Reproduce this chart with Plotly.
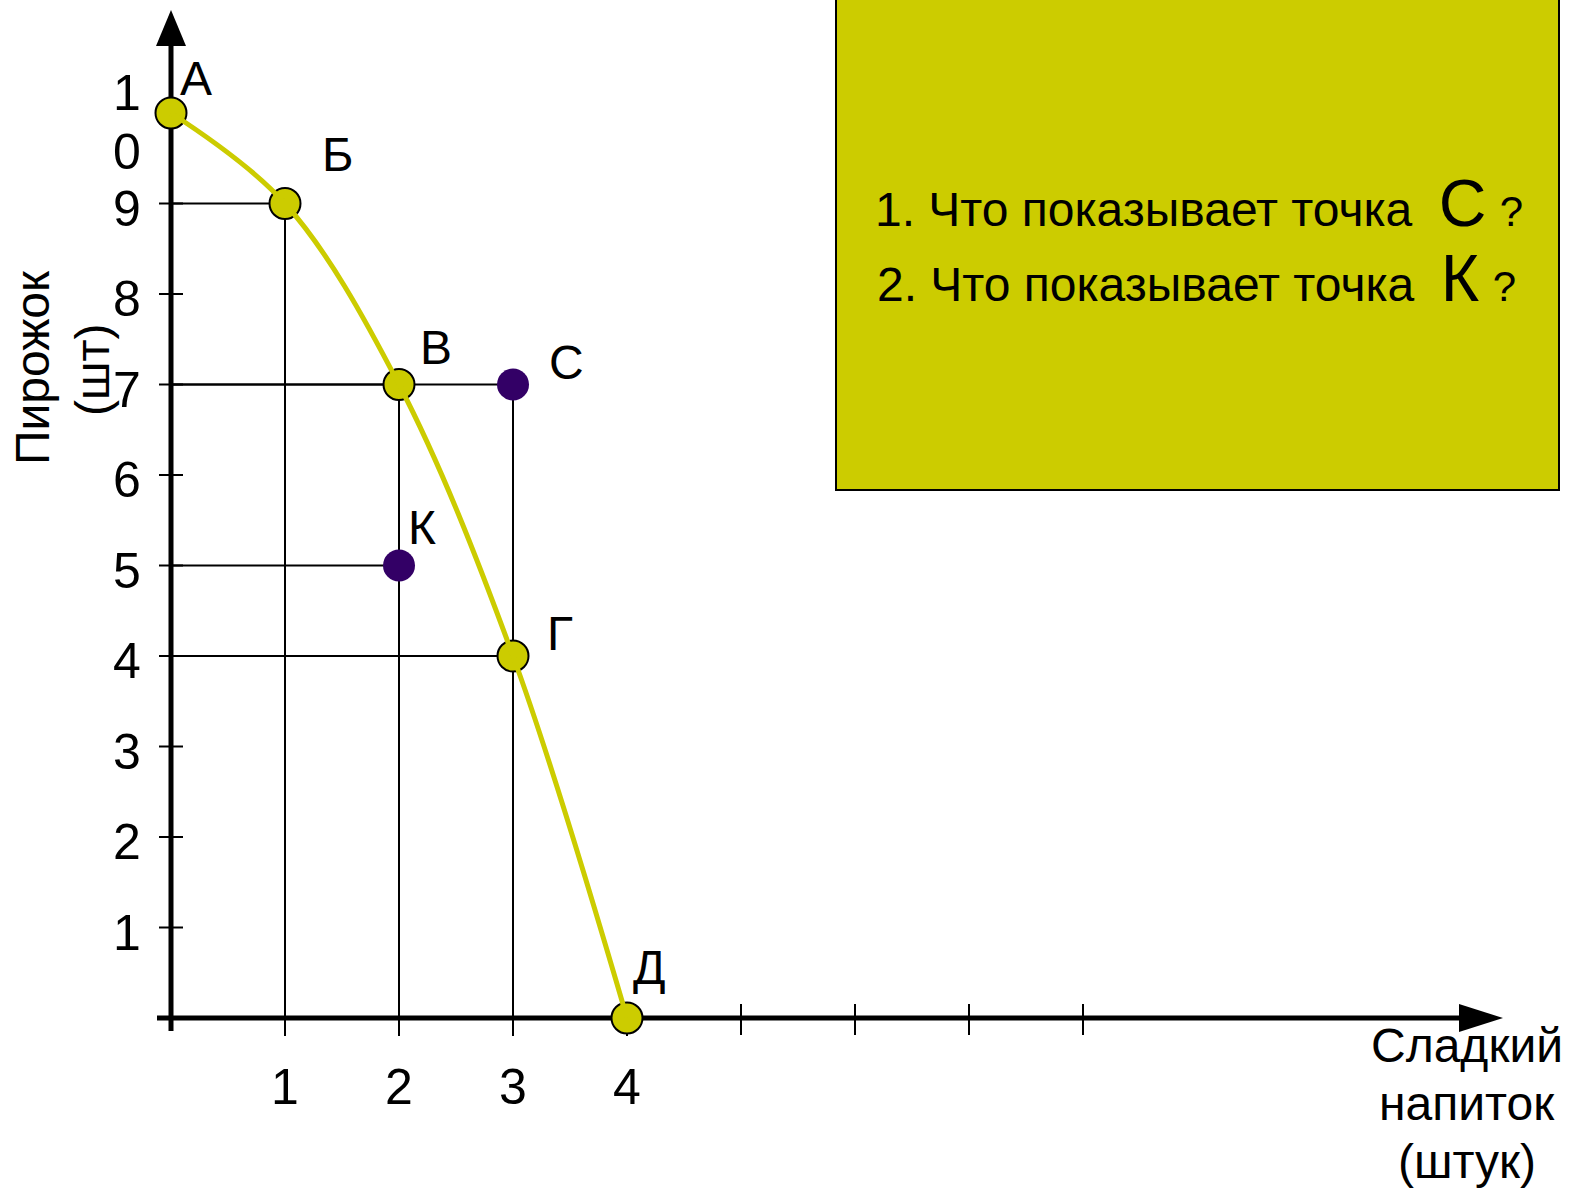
import plotly.graph_objects as go

# ---------------- data ----------------
ppf_names = ["А", "Б", "В", "Г", "Д"]
ppf_x = [0, 1, 2, 3, 4]
ppf_y = [10, 9, 7, 4, 0]

extra_names = ["С", "К"]
extra_x = [3, 2]
extra_y = [7, 5]

y_ticks = [1, 2, 3, 4, 5, 6, 7, 8, 9, 10]
x_ticks_labeled = [1, 2, 3, 4]
x_ticks_extra = [5, 6, 7, 8]

y_title = ["Пирожок", "(шт)"]
x_title = ["Сладкий", "напиток", "(штук)"]
question_1 = ("1. Что показывает точка", "С")
question_2 = ("2. Что показывает точка", "К")

# ---------------- geometry (pixel calibration) ----------------
W, H = 1573, 1189
X0_PX, X_UNIT = 171, 114.0
Y0_PX, Y_UNIT = 1018, 90.5
x_rng = [(0 - X0_PX) / X_UNIT, (W - X0_PX) / X_UNIT]
y_rng = [(Y0_PX - H) / Y_UNIT, Y0_PX / Y_UNIT]

def px2x(px):
    return (px - X0_PX) / X_UNIT

def px2y(py):
    return (Y0_PX - py) / Y_UNIT

YELLOW = "#CCCC00"
PURPLE = "#330066"
FONT = "Arial, 'Liberation Sans', sans-serif"

fig = go.Figure()

# guide lines from every marked point down to both axes
gx, gy = [], []
for xs, ys in ((ppf_x[1:4], ppf_y[1:4]), (extra_x, extra_y)):
    for xv, yv in zip(xs, ys):
        gx += [0, xv, None, xv, xv, None]
        gy += [yv, yv, None, 0, yv, None]
fig.add_trace(go.Scatter(x=gx, y=gy, mode="lines",
                         line=dict(color="black", width=2),
                         hoverinfo="skip", showlegend=False))

# tick marks
tx, ty = [], []
dx = 12 / X_UNIT
for v in y_ticks:
    tx += [-dx, dx, None]
    ty += [v, v, None]
for v in x_ticks_labeled:
    tx += [v, v, None]
    ty += [0, -18 / Y_UNIT, None]
for v in x_ticks_extra:
    tx += [v, v, None]
    ty += [14 / Y_UNIT, -17 / Y_UNIT, None]
fig.add_trace(go.Scatter(x=tx, y=ty, mode="lines",
                         line=dict(color="black", width=2),
                         hoverinfo="skip", showlegend=False))

# axis lines
y_tip = px2y(10)
x_tip = px2x(1503)
fig.add_trace(go.Scatter(x=[0, 0], y=[px2y(1031), y_tip - 30 / Y_UNIT], mode="lines",
                         line=dict(color="black", width=5),
                         hoverinfo="skip", showlegend=False))
fig.add_trace(go.Scatter(x=[px2x(157), x_tip - 30 / X_UNIT], y=[0, 0], mode="lines",
                         line=dict(color="black", width=5),
                         hoverinfo="skip", showlegend=False))
# arrow heads
fig.add_shape(type="path", layer="above",
              path=(f"M {-15 / X_UNIT} {y_tip - 36 / Y_UNIT} L 0 {y_tip} "
                    f"L {15 / X_UNIT} {y_tip - 36 / Y_UNIT} Z"),
              fillcolor="black", line=dict(width=0))
fig.add_shape(type="path", layer="above",
              path=(f"M {x_tip - 44 / X_UNIT} {14 / Y_UNIT} L {x_tip} 0 "
                    f"L {x_tip - 44 / X_UNIT} {-14 / Y_UNIT} Z"),
              fillcolor="black", line=dict(width=0))

# PPF points
fig.add_trace(go.Scatter(x=ppf_x, y=ppf_y, mode="markers",
                         marker=dict(color=YELLOW, size=31,
                                     line=dict(color="black", width=2)),
                         hoverinfo="skip", showlegend=False))
# PPF curve
fig.add_trace(go.Scatter(x=ppf_x, y=ppf_y, mode="lines",
                         line=dict(color=YELLOW, width=5, shape="spline", smoothing=1.0),
                         hoverinfo="skip", showlegend=False))
# other points
fig.add_trace(go.Scatter(x=extra_x, y=extra_y, mode="markers",
                         marker=dict(color=PURPLE, size=32),
                         hoverinfo="skip", showlegend=False))

ann = []
def text(x, y, s, size=48, xshift=0, yshift=0, xref="x", yref="y", textangle=0,
         xanchor="center"):
    ann.append(dict(x=x, y=y, xref=xref, yref=yref, text=s, showarrow=False,
                    xanchor=xanchor, yanchor="middle", xshift=xshift, yshift=yshift,
                    textangle=textangle,
                    font=dict(family=FONT, size=size, color="black")))

# point labels
label_shift = {"А": (25, 35), "Б": (53, 49), "В": (37, 37), "Г": (47, 23),
               "Д": (22, 51), "С": (53, 22), "К": (23, 38)}
for n, xv, yv in zip(ppf_names + extra_names, ppf_x + extra_x, ppf_y + extra_y):
    sx, sy = label_shift[n]
    text(xv, yv, n, size=48, xshift=sx, yshift=sy)

# y tick labels
for v in y_ticks:
    lab = str(v)
    if len(lab) == 1:
        text(px2x(127), v, lab, size=50, yshift=-5)
    else:
        text(px2x(127), v, lab[0], size=50, yshift=20)
        text(px2x(127), v, lab[1], size=50, yshift=-39)
# x tick labels
for v in x_ticks_labeled:
    text(v, px2y(1087), str(v), size=50)

# axis titles
text(px2x(32), px2y(368), y_title[0], size=48, textangle=-90)
text(px2x(92), px2y(370), y_title[1], size=48, textangle=-90)
for i, s in enumerate(x_title):
    text(px2x(1467), px2y(1045 + 58 * i), s, size=48)

# question box
fig.add_shape(type="rect", xref="paper", yref="paper",
              x0=836 / W, x1=1559 / W, y0=1 - 490 / H, y1=1 + 5 / H,
              fillcolor=YELLOW, line=dict(color="black", width=2), layer="above")
for (q, letter), cx, cy in ((question_1, 1199, 203), (question_2, 1196, 278)):
    s = (f"{q}&nbsp;&nbsp;<span style='font-size:66px'>{letter}</span>"
         f"&nbsp;<span style='font-size:42px'>?</span>")
    text(cx / W, 1 - cy / H, s, size=48, xref="paper", yref="paper")

fig.update_layout(
    width=W, height=H, autosize=False,
    margin=dict(l=0, r=0, t=0, b=0),
    paper_bgcolor="white", plot_bgcolor="white",
    xaxis=dict(range=x_rng, visible=False, fixedrange=True),
    yaxis=dict(range=y_rng, visible=False, fixedrange=True),
    annotations=ann,
    showlegend=False,
)

fig.write_html("out.html", config={"displayModeBar": False},
               post_script="document.body.style.margin='0';document.body.style.overflow='hidden';")
